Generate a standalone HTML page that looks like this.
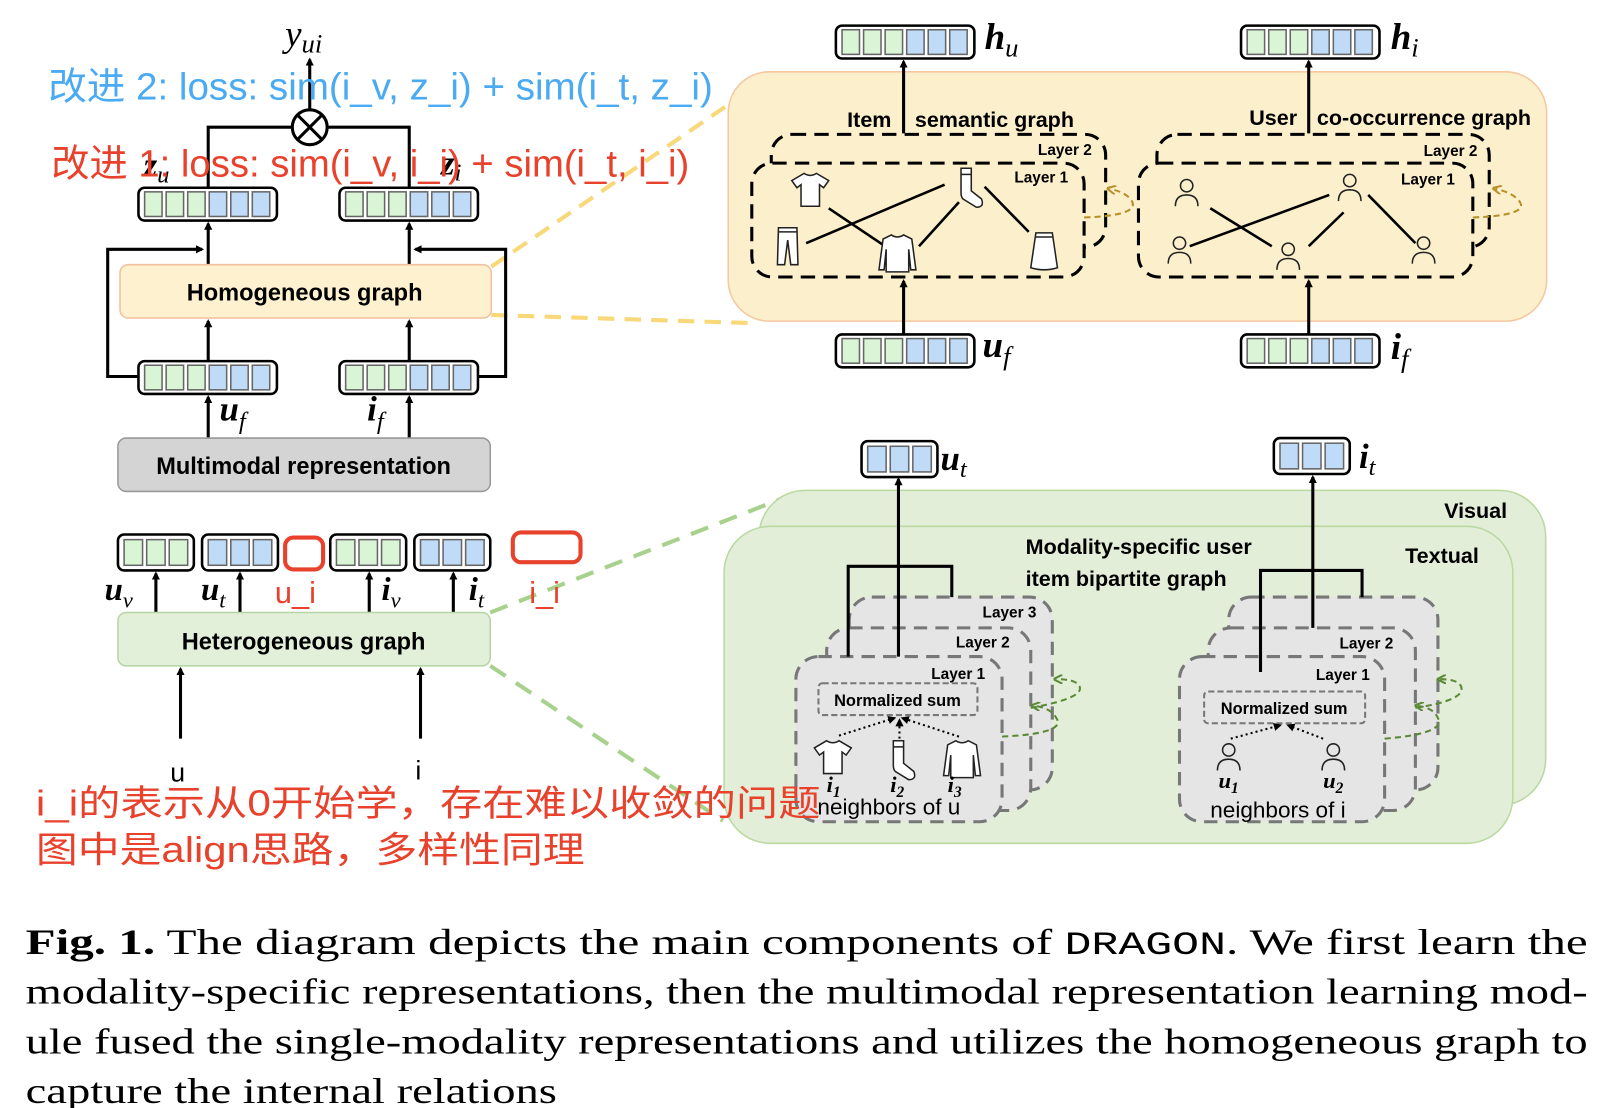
<!DOCTYPE html>
<html><head><meta charset="utf-8"><style>
html,body{margin:0;padding:0;background:#fff;}
svg{display:block;}
.b{font-family:"Liberation Sans","DejaVu Sans",sans-serif;font-weight:bold;}
.m{font-family:"Liberation Serif",serif;font-style:italic;font-weight:bold;}
.cn{font-family:"Liberation Sans","Noto Sans CJK SC",sans-serif;}
.cap{font-family:"Liberation Serif",serif;font-size:35px;}
</style></head><body>
<svg width="1600" height="1108" viewBox="0 0 1560 1080" preserveAspectRatio="none" xmlns="http://www.w3.org/2000/svg">
<defs>
<marker id="ar" markerWidth="8" markerHeight="8" refX="6" refY="4" orient="auto" markerUnits="userSpaceOnUse"><path d="M0,0 L8,4 L0,8 Z" fill="#000"/></marker>
<marker id="arg" markerWidth="9" markerHeight="9" refX="6" refY="4.5" orient="auto" markerUnits="userSpaceOnUse"><path d="M0,0 L9,4.5 L0,9" fill="none" stroke="#b8902a" stroke-width="2"/></marker>
<marker id="argr" markerWidth="9" markerHeight="9" refX="6" refY="4.5" orient="auto" markerUnits="userSpaceOnUse"><path d="M0,0 L9,4.5 L0,9" fill="none" stroke="#5a8a35" stroke-width="2"/></marker>
<g id="v6"><rect x="0" y="0" width="135" height="32" rx="6" fill="#fff" stroke="#000" stroke-width="2.5"/>
<g stroke="#666" stroke-width="1.5"><rect x="6" y="4" width="17" height="24" fill="#d9f5d6"/><rect x="27" y="4" width="17" height="24" fill="#d9f5d6"/><rect x="48" y="4" width="17" height="24" fill="#d9f5d6"/><rect x="69" y="4" width="17" height="24" fill="#c0dbf7"/><rect x="90" y="4" width="17" height="24" fill="#c0dbf7"/><rect x="111" y="4" width="17" height="24" fill="#c0dbf7"/></g></g>
<g id="v3g"><rect x="0" y="0" width="74" height="35" rx="6" fill="#fff" stroke="#000" stroke-width="2.5"/>
<g stroke="#666" stroke-width="1.5" fill="#d9f5d6"><rect x="6" y="5" width="18" height="25"/><rect x="28" y="5" width="18" height="25"/><rect x="50" y="5" width="18" height="25"/></g></g>
<g id="v3b"><rect x="0" y="0" width="74" height="35" rx="6" fill="#fff" stroke="#000" stroke-width="2.5"/>
<g stroke="#666" stroke-width="1.5" fill="#c0dbf7"><rect x="6" y="5" width="18" height="25"/><rect x="28" y="5" width="18" height="25"/><rect x="50" y="5" width="18" height="25"/></g></g>
<g id="person" fill="none" stroke="#222" stroke-width="1.5"><circle cx="0" cy="-9" r="6"/><path d="M-11,11 Q-11,0 0,0 Q11,0 11,11"/></g>
<g id="shirt" fill="#fff" stroke="#222" stroke-width="1.5"><path d="M-6,-16 Q0,-12 6,-16 L18,-9 L13,-2 L9,-5 L9,16 L-9,16 L-9,-5 L-13,-2 L-18,-9 Z"/></g>
<g id="sock" fill="#fff" stroke="#222" stroke-width="1.5"><path d="M-6,-18 L4,-18 L4,4 L14,12 Q17,20 9,20 L-4,12 Q-6,10 -6,6 Z"/><path d="M-6,-12 L4,-12"/></g>
<g id="pants" fill="#fff" stroke="#222" stroke-width="1.5"><path d="M-9,-18 L9,-18 L10,18 L3,18 L0,-6 L-3,18 L-10,18 Z"/><path d="M-9,-14 L9,-14"/></g>
<g id="sweater" fill="#fff" stroke="#222" stroke-width="1.5"><path d="M-6,-18 Q0,-14 6,-18 L14,-14 L18,16 L13,16 L11,-4 L11,18 L-11,18 L-11,-4 L-13,16 L-18,16 L-14,-14 Z"/></g>
<g id="skirt" fill="#fff" stroke="#222" stroke-width="1.5"><path d="M-8,-18 L8,-18 L13,16 Q0,20 -13,16 Z"/><path d="M-8,-14 L8,-14"/></g>
</defs>

<g stroke="#f8d878" stroke-width="4" stroke-dasharray="16,10" fill="none">
<path d="M479,260 L735,85"/><path d="M479,307 L735,315"/></g>
<g stroke="#a9d18e" stroke-width="4" stroke-dasharray="18,12" fill="none">
<path d="M478,597 L765,485"/><path d="M478,649 L705,800"/></g>

<text x="278" y="45" font-family="Liberation Serif" font-style="italic" font-size="36">y<tspan font-size="26" dy="6">ui</tspan></text>
<g stroke="#000" stroke-width="3" fill="none">
<path d="M302,106 L302,58" marker-end="url(#ar)"/>
<path d="M285,124 L203,124 L203,183"/><path d="M319,124 L399,124 L399,183"/>
</g>
<circle cx="302" cy="124" r="17" fill="#fff" stroke="#000" stroke-width="3"/>
<path d="M290,112 L314,136 M314,112 L290,136" stroke="#000" stroke-width="3"/>
<text x="140" y="172" class="m" font-size="34">z<tspan font-size="24" dy="6" font-weight="normal">u</tspan></text>
<text x="430" y="170" class="m" font-size="34">z<tspan font-size="24" dy="6" font-weight="normal">i</tspan></text>
<text x="47" y="97" class="cn" font-size="37" fill="#4aaaf2" textLength="648" lengthAdjust="spacingAndGlyphs">改进 2: loss: sim(i_v, z_i) + sim(i_t, z_i)</text>
<text x="50" y="172" class="cn" font-size="37" fill="#e8412c" textLength="622" lengthAdjust="spacingAndGlyphs">改进 1: loss: sim(i_v, i_i) + sim(i_t, i_i)</text>

<use href="#v6" x="135" y="183"/><use href="#v6" x="331" y="183"/>
<g stroke="#000" stroke-width="3" fill="none">
<path d="M203,258 L203,218" marker-end="url(#ar)"/><path d="M399,258 L399,218" marker-end="url(#ar)"/>
<path d="M135,367 L105,367 L105,243 L197,243" marker-end="url(#ar)"/>
<path d="M466,367 L493,367 L493,243 L405,243" marker-end="url(#ar)"/>
<path d="M203,352 L203,313" marker-end="url(#ar)"/><path d="M399,352 L399,313" marker-end="url(#ar)"/>
<path d="M203,427 L203,387" marker-end="url(#ar)"/><path d="M399,427 L399,387" marker-end="url(#ar)"/>
</g>
<rect x="117" y="258" width="362" height="52" rx="8" fill="#fdf1d0" stroke="#f0c0a0" stroke-width="1.5"/>
<text x="297" y="293" class="b" font-size="23" text-anchor="middle">Homogeneous graph</text>
<use href="#v6" x="135" y="352"/><use href="#v6" x="331" y="352"/>
<text x="214" y="410" class="m" font-size="34">u<tspan font-size="24" dy="8" font-weight="normal">f</tspan></text>
<text x="358" y="410" class="m" font-size="34">i<tspan font-size="24" dy="8" font-weight="normal">f</tspan></text>
<rect x="115" y="427" width="363" height="52" rx="8" fill="#d4d4d4" stroke="#999" stroke-width="1.5"/>
<text x="296" y="462" class="b" font-size="23" text-anchor="middle">Multimodal representation</text>

<use href="#v3g" x="115" y="521"/><use href="#v3b" x="197" y="521"/>
<use href="#v3g" x="322" y="521"/><use href="#v3b" x="404" y="521"/>
<rect x="278" y="524" width="37" height="31" rx="8" fill="none" stroke="#e8412c" stroke-width="4"/>
<rect x="500" y="519" width="66" height="29" rx="8" fill="none" stroke="#e8412c" stroke-width="4"/>
<g stroke="#000" stroke-width="3" fill="none">
<path d="M152,597 L152,559" marker-end="url(#ar)"/><path d="M234,597 L234,559" marker-end="url(#ar)"/>
<path d="M360,597 L360,559" marker-end="url(#ar)"/><path d="M442,597 L442,559" marker-end="url(#ar)"/>
<path d="M176,720 L176,652" marker-end="url(#ar)"/><path d="M410,720 L410,652" marker-end="url(#ar)"/>
</g>
<text x="102" y="585" class="m" font-size="32">u<tspan font-size="22" dy="7" font-weight="normal">v</tspan></text>
<text x="196" y="585" class="m" font-size="32">u<tspan font-size="22" dy="7" font-weight="normal">t</tspan></text>
<text x="268" y="588" class="cn" font-size="30" fill="#e8412c">u_i</text>
<text x="372" y="585" class="m" font-size="32">i<tspan font-size="22" dy="7" font-weight="normal">v</tspan></text>
<text x="457" y="585" class="m" font-size="32">i<tspan font-size="22" dy="7" font-weight="normal">t</tspan></text>
<text x="516" y="588" class="cn" font-size="30" fill="#e8412c">i_i</text>
<rect x="115" y="597" width="363" height="52" rx="8" fill="#e2f0d9" stroke="#b5d5a5" stroke-width="1.5"/>
<text x="296" y="633" class="b" font-size="23" text-anchor="middle">Heterogeneous graph</text>
<text x="166" y="762" font-family="Liberation Sans" font-size="26">u</text>
<text x="405" y="760" font-family="Liberation Sans" font-size="26">i</text>

<rect x="710" y="70" width="798" height="243" rx="40" fill="#fcefcc" stroke="#f5c8a0" stroke-width="1.5"/>
<use href="#v6" x="815" y="25"/><use href="#v6" x="1210" y="25"/>
<text x="960" y="48" class="m" font-size="36">h<tspan font-size="26" dy="7" font-weight="normal">u</tspan></text>
<text x="1356" y="48" class="m" font-size="36">h<tspan font-size="26" dy="7" font-weight="normal">i</tspan></text>
<g stroke="#000" stroke-width="3" fill="none">
<path d="M881,130 L881,60" marker-end="url(#ar)"/><path d="M1276,130 L1276,60" marker-end="url(#ar)"/>
<path d="M881,326 L881,274" marker-end="url(#ar)"/><path d="M1276,326 L1276,274" marker-end="url(#ar)"/>
</g>
<text x="826" y="124" class="b" font-size="21">Item</text>
<text x="892" y="124" class="b" font-size="21">semantic graph</text>
<text x="1218" y="122" class="b" font-size="21">User</text>
<text x="1284" y="122" class="b" font-size="21">co-occurrence graph</text>
<g fill="none" stroke="#000" stroke-width="3" stroke-dasharray="14,8">
<rect x="752" y="131" width="326" height="110" rx="20"/>
<rect x="733" y="159" width="324" height="111" rx="20" fill="#fcefcc"/>
<rect x="1128" y="131" width="324" height="110" rx="20"/>
<rect x="1110" y="159" width="326" height="111" rx="20" fill="#fcefcc"/>
</g>
<text x="1012" y="151" class="b" font-size="15">Layer 2</text>
<text x="989" y="178" class="b" font-size="15">Layer 1</text>
<text x="1388" y="152" class="b" font-size="15">Layer 2</text>
<text x="1366" y="180" class="b" font-size="15">Layer 1</text>
<g stroke="#000" stroke-width="2.5">
<path d="M808,203 L860,238"/><path d="M786,237 L921,180"/><path d="M935,197 L896,240"/><path d="M960,182 L1003,226"/>
<path d="M1180,203 L1240,240"/><path d="M1160,240 L1296,190"/><path d="M1276,240 L1310,207"/><path d="M1334,190 L1380,237"/>
</g>
<use href="#shirt" x="790" y="185"/><use href="#sock" x="943" y="182"/><use href="#pants" x="768" y="240"/>
<use href="#sweater" x="875" y="247"/><use href="#skirt" x="1018" y="245"/>
<use href="#person" x="1157" y="190"/><use href="#person" x="1316" y="185"/><use href="#person" x="1150" y="246"/>
<use href="#person" x="1256" y="252"/><use href="#person" x="1388" y="246"/>
<g fill="none" stroke="#b8902a" stroke-width="2" stroke-dasharray="6,4">
<path d="M1057,212 Q1110,210 1104,197 Q1100,188 1082,184" marker-end="url(#arg)"/>
<path d="M1436,212 Q1490,210 1482,197 Q1476,188 1458,184" marker-end="url(#arg)"/>
</g>
<use href="#v6" x="815" y="326"/><use href="#v6" x="1210" y="326"/>
<text x="958" y="348" class="m" font-size="36">u<tspan font-size="26" dy="8" font-weight="normal">f</tspan></text>
<text x="1356" y="350" class="m" font-size="36">i<tspan font-size="26" dy="8" font-weight="normal">f</tspan></text>

<rect x="740" y="478" width="767" height="307" rx="45" fill="#e3eed8" stroke="#b9d9a0" stroke-width="1.5"/>
<rect x="706" y="513" width="769" height="309" rx="45" fill="#e3eed8" stroke="#b9d9a0" stroke-width="1.5"/>
<text x="1408" y="505" class="b" font-size="21">Visual</text>
<text x="1370" y="549" class="b" font-size="21">Textual</text>
<text x="1000" y="540" class="b" font-size="21">Modality-specific user</text>
<text x="1000" y="571" class="b" font-size="21">item bipartite graph</text>
<use href="#v3b" x="840" y="430"/><use href="#v3b" x="1242" y="427"/>
<text x="917" y="458" class="m" font-size="34">u<tspan font-size="24" dy="7" font-weight="normal">t</tspan></text>
<text x="1325" y="456" class="m" font-size="34">i<tspan font-size="24" dy="7" font-weight="normal">t</tspan></text>
<g fill="#e5e5e5" stroke="#777" stroke-width="3" stroke-dasharray="13,8">
<rect x="828" y="582" width="198" height="188" rx="22"/>
<rect x="806" y="612" width="199" height="178" rx="22"/>
<rect x="776" y="640" width="201" height="161" rx="22"/>
<rect x="1198" y="582" width="204" height="188" rx="22"/>
<rect x="1178" y="612" width="202" height="178" rx="22"/>
<rect x="1150" y="640" width="200" height="161" rx="22"/>
</g>
<g stroke="#000" stroke-width="3" fill="none">
<path d="M827,640 L827,552 L928,552 L928,582"/><path d="M876,640 L876,467" marker-end="url(#ar)"/>
<path d="M1229,655 L1229,556 L1328,556 L1328,582"/><path d="M1280,612 L1280,465" marker-end="url(#ar)"/>
</g>
<text x="958" y="602" class="b" font-size="15">Layer 3</text>
<text x="932" y="631" class="b" font-size="15">Layer 2</text>
<text x="908" y="662" class="b" font-size="15">Layer 1</text>
<text x="1306" y="632" class="b" font-size="15">Layer 2</text>
<text x="1283" y="663" class="b" font-size="15">Layer 1</text>
<g fill="none" stroke="#777" stroke-width="2" stroke-dasharray="6,3">
<rect x="798" y="666" width="155" height="31" rx="4"/><rect x="1174" y="674" width="157" height="31" rx="4"/></g>
<text x="875" y="688" class="b" font-size="16" text-anchor="middle">Normalized sum</text>
<text x="1252" y="696" class="b" font-size="16" text-anchor="middle">Normalized sum</text>
<g stroke="#000" stroke-width="2" stroke-dasharray="2,3" fill="none">
<path d="M818,717 L872,700" marker-end="url(#ar)"/><path d="M877,730 L877,702" marker-end="url(#ar)"/><path d="M935,718 L880,700" marker-end="url(#ar)"/>
<path d="M1200,720 L1248,707" marker-end="url(#ar)"/><path d="M1290,720 L1256,707" marker-end="url(#ar)"/>
</g>
<use href="#shirt" x="812" y="738"/><use href="#sock" x="877" y="740"/><use href="#sweater" x="938" y="740"/>
<use href="#person" x="1198" y="740"/><use href="#person" x="1300" y="740"/>
<text x="806" y="772" class="m" font-size="22">i<tspan font-size="15" dy="5">1</tspan></text>
<text x="868" y="772" class="m" font-size="22">i<tspan font-size="15" dy="5">2</tspan></text>
<text x="924" y="772" class="m" font-size="22">i<tspan font-size="15" dy="5">3</tspan></text>
<text x="1188" y="768" class="m" font-size="22">u<tspan font-size="15" dy="5">1</tspan></text>
<text x="1290" y="768" class="m" font-size="22">u<tspan font-size="15" dy="5">2</tspan></text>
<text x="797" y="794" font-family="Liberation Sans" font-size="22">neighbors of u</text>
<text x="1180" y="797" font-family="Liberation Sans" font-size="22">neighbors of i</text>
<g fill="none" stroke="#5a8a35" stroke-width="2" stroke-dasharray="6,4">
<path d="M977,718 Q1040,715 1030,700 Q1025,690 1008,688" marker-end="url(#argr)"/>
<path d="M1005,690 Q1060,680 1052,668 Q1048,662 1030,662" marker-end="url(#argr)"/>
<path d="M1350,720 Q1410,715 1402,700 Q1398,690 1382,688" marker-end="url(#argr)"/>
<path d="M1380,690 Q1432,682 1424,668 Q1420,662 1404,662" marker-end="url(#argr)"/>
</g>

<text x="35" y="795" class="cn" font-size="35" fill="#e8412c" textLength="765" lengthAdjust="spacingAndGlyphs">i_i的表示从0开始学，存在难以收敛的问题</text>
<text x="35" y="840" class="cn" font-size="35" fill="#e8412c" textLength="535" lengthAdjust="spacingAndGlyphs">图中是align思路，多样性同理</text>

<text x="25" y="930" class="cap" textLength="1523" lengthAdjust="spacingAndGlyphs"><tspan font-weight="bold">Fig. 1.</tspan> The diagram depicts the main components of <tspan font-family="Liberation Mono" font-size="32">DRAGON</tspan>. We first learn the</text>
<text x="25" y="978" class="cap" textLength="1523" lengthAdjust="spacingAndGlyphs">modality-specific representations, then the multimodal representation learning mod-</text>
<text x="25" y="1027" class="cap" textLength="1523" lengthAdjust="spacingAndGlyphs">ule fused the single-modality representations and utilizes the homogeneous graph to</text>
<text x="25" y="1075" class="cap" textLength="518" lengthAdjust="spacingAndGlyphs">capture the internal relations</text>
</svg>
</body></html>
